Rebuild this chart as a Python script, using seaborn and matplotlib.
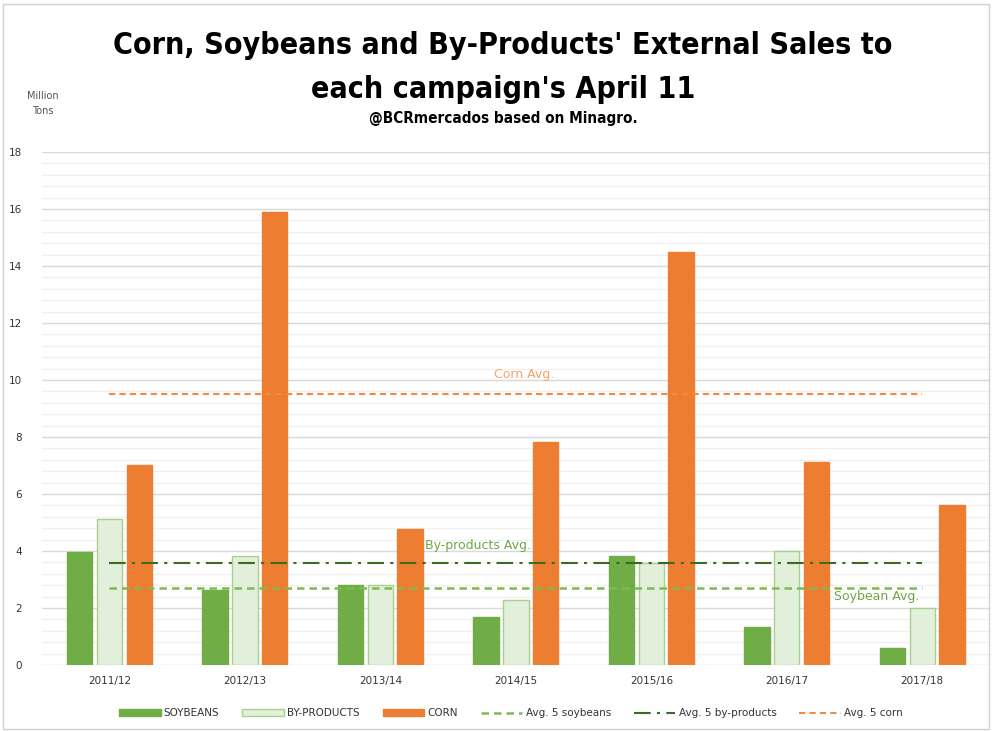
import matplotlib
matplotlib.use("Agg")
import matplotlib.pyplot as plt
import seaborn as sns
import pandas as pd
import numpy as np
from matplotlib.lines import Line2D
from matplotlib.patches import Patch, Rectangle

campaigns = ["2011/12", "2012/13", "2013/14", "2014/15", "2015/16", "2016/17", "2017/18"]
soybeans = [3.95, 2.63, 2.8, 1.68, 3.82, 1.33, 0.6]
byproducts = [5.12, 3.82, 2.8, 2.28, 3.58, 4.0, 2.0]
corn = [7.02, 15.9, 4.77, 7.82, 14.5, 7.12, 5.61]
avg_soy = 2.7
avg_byp = 3.58
avg_corn = 9.5
series = ["SOYBEANS", "BY-PRODUCTS", "CORN"]

df = pd.DataFrame({
    "campaign": campaigns * 3,
    "value": soybeans + byproducts + corn,
    "series": [series[0]] * 7 + [series[1]] * 7 + [series[2]] * 7,
})

c_soy = "#70AD47"
c_byp = "#E2EFDA"
c_byp_edge = "#A9D18E"
c_corn = "#ED7D31"
c_avg_soy = "#7DBB50"
c_avg_byp = "#3A6B20"
c_avg_corn = "#F08A45"

sns.set_theme(style="white")
plt.rcParams['font.family'] = ['DejaVu Sans']

fig = plt.figure(figsize=(9.92, 7.31), dpi=100)
ax = fig.add_axes([0.042, 0.0903, 0.956, 0.7017])

sns.barplot(data=df, x="campaign", y="value", hue="series", order=campaigns,
            hue_order=series, palette=[c_soy, c_byp, c_corn], width=0.66, gap=0.15,
            saturation=1, ax=ax, legend=False, linewidth=1)
for i, p in enumerate(ax.patches):
    if 7 <= i < 14:
        p.set_edgecolor(c_byp_edge)
    elif i < 7:
        p.set_edgecolor(c_soy)
    else:
        p.set_edgecolor(c_corn)

ax.set_ylim(0, 18)
ax.set_xlim(-0.5, 6.5)
ax.set_yticks(np.arange(0, 19, 2))
ax.set_yticks(np.arange(0, 18.01, 0.4), minor=True)
ax.yaxis.grid(True, which="major", color="#D9D9D9", linewidth=1)
ax.yaxis.grid(True, which="minor", color="#F0F0F0", linewidth=1)
ax.set_axisbelow(True)
for s in ax.spines.values():
    s.set_visible(False)
ax.tick_params(axis="y", which="both", length=0, labelsize=7.5, pad=14, labelcolor="#333333")
ax.tick_params(axis="x", length=0, labelsize=7.5, pad=8, labelcolor="#333333")
ax.set_xlabel("")
ax.set_ylabel("")

ax.plot([0, 6], [avg_soy, avg_soy], linestyle=(0, (3, 2)), color=c_avg_soy, linewidth=1.8)
ax.plot([0, 6], [avg_byp, avg_byp], linestyle=(0, (8, 3, 1.5, 3)), color=c_avg_byp, linewidth=1.5)
ax.plot([0, 6], [avg_corn, avg_corn], linestyle=(0, (3, 2)), color=c_avg_corn, linewidth=1.5)

ax.text(3.06, 10.2, "Corn Avg.", color="#F4A46A", fontsize=9, ha="center", va="center")
ax.text(2.72, 4.2, "By-products Avg.", color="#6FA548", fontsize=9, ha="center", va="center")
ax.text(5.66, 2.4, "Soybean Avg.", color="#6FA548", fontsize=9, ha="center", va="center")

tfont = dict(family="DejaVu Sans", stretch="condensed", fontweight="bold", color="black")
fig.text(0.507, 0.938, "Corn, Soybeans and By-Products' External Sales to",
         ha="center", va="center", fontsize=21.8, **tfont)
fig.text(0.507, 0.877, "each campaign's April 11",
         ha="center", va="center", fontsize=21.8, **tfont)
fig.text(0.507, 0.838, "@BCRmercados based on Minagro.",
         ha="center", va="center", fontsize=11, **tfont)
fig.text(0.043, 0.858, "Million\nTons", ha="center", va="center", fontsize=7, color="#555555",
         linespacing=1.6)

handles = [
    Patch(facecolor=c_soy, edgecolor=c_soy),
    Patch(facecolor=c_byp, edgecolor=c_byp_edge),
    Patch(facecolor=c_corn, edgecolor=c_corn),
    Line2D([], [], color=c_avg_soy, linestyle=(0, (3, 2)), linewidth=1.8),
    Line2D([], [], color=c_avg_byp, linestyle=(0, (8, 3, 1.5, 3)), linewidth=1.5),
    Line2D([], [], color=c_avg_corn, linestyle=(0, (3, 2)), linewidth=1.5),
]
labels = ["SOYBEANS", "BY-PRODUCTS", "CORN", "Avg. 5 soybeans", "Avg. 5 by-products", "Avg. 5 corn"]
fig.legend(handles, labels, loc="center", bbox_to_anchor=(0.515, 0.024), ncol=6, frameon=False,
           fontsize=7.5, handlelength=4, handleheight=0.6, columnspacing=2.2, handletextpad=0.3,
           labelcolor="#333333")

fig.add_artist(Rectangle((0.003, 0.003), 0.994, 0.991, transform=fig.transFigure,
                         fill=False, edgecolor="#D0D0D0", linewidth=1))

fig.savefig("out.png", dpi=100)
